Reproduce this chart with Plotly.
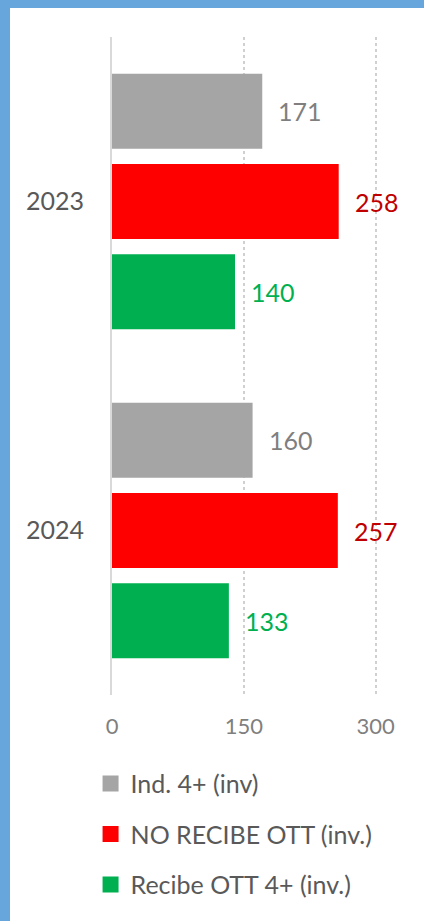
import plotly.graph_objects as go

# data
years = ["2023", "2024"]
series_names = ["Ind. 4+ (inv)", "NO RECIBE OTT (inv.)", "Recibe OTT 4+ (inv.)"]
ind_4 = [171, 160]
no_recibe_ott = [258, 257]
recibe_ott = [140, 133]
x_ticks = [0, 150, 300]

series_values = [ind_4, no_recibe_ott, recibe_ott]
bar_colors = ["#a5a5a5", "#ff0000", "#00b050"]
label_colors = ["#7f7f7f", "#c00000", "#00b050"]

FONT = "Lato, 'Open Sans', sans-serif"
TXT = "#595959"

fig = go.Figure()

for i, (name, vals) in enumerate(zip(series_names, series_values)):
    fig.add_trace(go.Bar(
        y=years,
        x=vals,
        name=name,
        orientation="h",
        marker=dict(color=bar_colors[i], line=dict(width=0)),
        legendgroup=f"g{i}",
        showlegend=False,
        hoverinfo="x+name",
    ))
    # legend entry with a larger square swatch
    fig.add_trace(go.Scatter(
        x=[None], y=[None],
        mode="markers",
        name=name,
        marker=dict(symbol="square", size=16, color=bar_colors[i],
                    line=dict(width=0)),
        legendgroup=f"g{i}",
        hoverinfo="skip",
    ))

# value labels to the right of each bar
BARGAP, GROUPGAP = 0.177, 0.171
slot = (1 - BARGAP) / 3
for i, vals in enumerate(series_values):
    offset = (i - 1) * slot
    for yr, v in zip(years, vals):
        fig.add_annotation(
            x=v, y=years.index(yr) + offset,
            xref="x", yref="y",
            text=str(v),
            showarrow=False,
            xanchor="left",
            xshift=14,
            font=dict(family=FONT, size=25, color=label_colors[i]),
        )

# the paper is blue; a white card covers all but a left/top strip
W, H = 424, 921
L, R, T, B = 112, 44, 37, 226
pw, ph = W - L - R, H - T - B
def px_x(p):
    return (p - L) / pw
def px_y(p):
    return (H - B - p) / ph

fig.add_shape(type="rect", xref="paper", yref="paper",
              x0=px_x(10), x1=px_x(W + 5), y0=px_y(H + 5), y1=px_y(8),
              fillcolor="white", line=dict(width=0), layer="below")

fig.update_layout(
    width=W, height=H,
    margin=dict(l=L, r=R, t=T, b=B),
    paper_bgcolor="#67a6dc",
    plot_bgcolor="white",
    barmode="group",
    bargap=BARGAP,
    bargroupgap=GROUPGAP,
    font=dict(family=FONT, color=TXT),
    showlegend=True,
    legend=dict(
        x=-0.08, y=-0.1, xanchor="left", yanchor="top",
        font=dict(size=25, color=TXT),
        tracegroupgap=15,
        itemsizing="trace",
        bgcolor="rgba(0,0,0,0)",
    ),
)

fig.update_xaxes(
    range=[0, 305],
    tickvals=x_ticks,
    showgrid=True, gridcolor="#d0d0d0", griddash="dot", gridwidth=1.5,
    zeroline=False, showline=False,
    tickfont=dict(size=22, color="#7f7f7f"),
    ticklabelstandoff=16,
    fixedrange=True,
)
fig.update_yaxes(
    autorange="reversed",
    showline=True, linecolor="#d9d9d9", linewidth=2,
    showgrid=False,
    tickfont=dict(size=25, color=TXT),
    ticklabelstandoff=21,
    fixedrange=True,
)

fig.write_html(
    "out.html",
    config={"displayModeBar": False},
    post_script="document.body.style.margin='0';",
)
